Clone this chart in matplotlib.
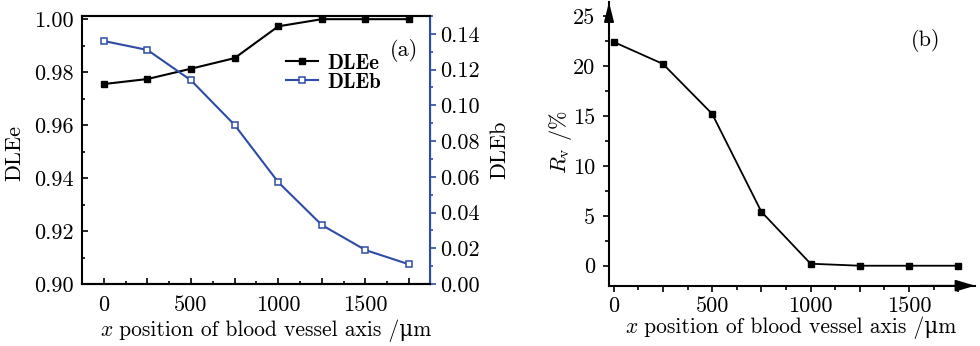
import matplotlib
matplotlib.use("Agg")
import matplotlib.pyplot as plt
from matplotlib.ticker import MultipleLocator, FuncFormatter
from matplotlib.lines import Line2D
from matplotlib.offsetbox import TextArea, HPacker, AnnotationBbox

plt.rcParams['font.family'] = ['cmr10', 'DejaVu Serif']
plt.rcParams['mathtext.fontset'] = 'cm'
plt.rcParams['axes.formatter.use_mathtext'] = True

# data
x_pos = [0, 250, 500, 750, 1000, 1250, 1500, 1750]
dle_e = [0.9755, 0.9774, 0.9813, 0.9853, 0.9973, 1.0, 1.0, 1.0]
dle_b = [0.136, 0.131, 0.114, 0.089, 0.057, 0.033, 0.019, 0.011]
rv = [22.4, 20.2, 15.2, 5.4, 0.2, 0.0, 0.0, 0.0]
xlabel_rest = ' position of blood vessel axis /μm'

blue = '#2E4CA6'
fs = 16

fig = plt.figure(figsize=(9.8, 3.46), dpi=100)


def xlabel_box(cx, cy):
    t1 = TextArea('x', textprops=dict(family='cmmi10', size=15.5))
    t2 = TextArea(xlabel_rest, textprops=dict(family=['cmr10', 'DejaVu Serif'], size=15.5))
    box = HPacker(children=[t1, t2], align='baseline', pad=0, sep=0)
    ab = AnnotationBbox(box, (cx, 346 - cy), xycoords='figure pixels', frameon=False,
                        box_alignment=(0.5, 0.5), pad=0)
    fig.add_artist(ab)


# ---------- panel (a)
ax = fig.add_axes([82/980, 1-284/346, 348/980, 268/346])
ax2 = ax.twinx()
ax.plot(x_pos, dle_e, color='black', lw=1.5, marker='s', ms=5, mfc='black', mec='black', clip_on=False, zorder=5)
ax2.plot(x_pos, dle_b, color=blue, lw=1.5, marker='s', ms=4.2, mfc='white', mec=blue, mew=1.1, clip_on=False, zorder=4)
ax.set_xlim(-125, 1870)
ax.set_ylim(0.90, 1.0012)
ax2.set_ylim(0.0, 0.15)

ax.xaxis.set_major_locator(MultipleLocator(250))
ax.xaxis.set_minor_locator(MultipleLocator(125))
ax.xaxis.set_major_formatter(FuncFormatter(lambda v, p: f"{int(round(v))}" if round(v) % 500 == 0 else ""))
ax.yaxis.set_major_locator(MultipleLocator(0.02))
ax.yaxis.set_minor_locator(MultipleLocator(0.01))
ax.yaxis.set_major_formatter(FuncFormatter(lambda v, p: f"{v:.2f}"))
ax2.yaxis.set_major_locator(MultipleLocator(0.02))
ax2.yaxis.set_minor_locator(MultipleLocator(0.01))
ax2.yaxis.set_major_formatter(FuncFormatter(lambda v, p: f"{v:.2f}"))

ax.tick_params(axis='both', which='both', direction='in', labelsize=fs, width=1.2)
ax.tick_params(axis='both', which='major', length=4)
ax.tick_params(axis='both', which='minor', length=2.5)
ax.tick_params(axis='y', right=False, pad=6)
ax.tick_params(axis='x', pad=8)
ax2.tick_params(axis='y', which='both', direction='out', color=blue, labelsize=fs, width=1.2)
ax2.tick_params(axis='y', which='major', length=4)
ax2.tick_params(axis='y', which='minor', length=2.5)
for s in ['left', 'bottom', 'top']:
    ax.spines[s].set_linewidth(1.5)
ax2.spines['right'].set_color(blue)
ax2.spines['right'].set_linewidth(1.5)
ax2.spines['left'].set_visible(False)
ax2.spines['top'].set_linewidth(1.5)
ax2.spines['bottom'].set_linewidth(1.5)

fig.text(15/980, 1-153/346, 'DLEe', fontsize=fs, rotation=90, ha='center', va='center')
fig.text(500/980, 1-150/346, 'DLEb', fontsize=fs, rotation=90, ha='center', va='center')
xlabel_box(266, 331)
ax2.text(0.965, 0.87, '(a)', transform=ax2.transAxes, ha='right', va='center', fontsize=fs)

handles = [Line2D([], [], color='black', lw=1.5, marker='s', ms=5, mfc='black', mec='black'),
           Line2D([], [], color=blue, lw=1.5, marker='s', ms=4.2, mfc='white', mec=blue, mew=1.1)]
ax2.legend(handles, ['DLEe', 'DLEb'], loc='upper left', bbox_to_anchor=(0.585, 0.86),
           frameon=False, borderpad=0, borderaxespad=0, handlelength=1.55,
           handletextpad=0.45, labelspacing=0.0, prop={'family': 'cmb10', 'size': 15})

# ---------- panel (b)
bx = fig.add_axes([609/980, 1-285.7/346, 366/980, 283.7/346])
bx.plot(x_pos, rv, color='black', lw=1.3, marker='s', ms=4.8, mfc='black', mec='black', clip_on=False, zorder=5)
bx.set_xlim(-24, 1835)
bx.set_ylim(-2.0, 26.4)
bx.xaxis.set_major_locator(MultipleLocator(250))
bx.xaxis.set_minor_locator(MultipleLocator(125))
bx.xaxis.set_major_formatter(FuncFormatter(lambda v, p: f"{int(round(v))}" if round(v) % 500 == 0 and v < 1800 else ""))
bx.yaxis.set_major_locator(MultipleLocator(5))
bx.yaxis.set_minor_locator(MultipleLocator(2.5))
bx.yaxis.set_major_formatter(FuncFormatter(lambda v, p: f"{int(round(v))}" if 0 <= v <= 25 else ""))
bx.tick_params(axis='both', which='both', direction='out', labelsize=fs, width=1.2)
bx.tick_params(axis='both', which='major', length=4)
bx.tick_params(axis='both', which='minor', length=3)
bx.tick_params(axis='y', pad=6)
bx.spines['top'].set_visible(False)
bx.spines['right'].set_visible(False)
bx.spines['left'].set_linewidth(1.5)
bx.spines['bottom'].set_linewidth(1.5)
bx.annotate('', xy=(1.0, 0), xytext=(0.85, 0), xycoords='axes fraction',
            arrowprops=dict(arrowstyle='-|>,head_length=1.0,head_width=0.3', color='black', lw=1.2,
                            mutation_scale=12, shrinkA=0, shrinkB=0))
bx.annotate('', xy=(0, 1.0), xytext=(0, 0.85), xycoords='axes fraction',
            arrowprops=dict(arrowstyle='-|>,head_length=1.0,head_width=0.25', color='black', lw=1.2,
                            mutation_scale=12, shrinkA=0, shrinkB=0))
fig.text(561/980, 1-142/346, r'$R_{\mathrm{v}}$ /%', fontsize=fs, rotation=90, ha='center', va='center')
xlabel_box(791, 328)
bx.text(0.905, 0.865, '(b)', transform=bx.transAxes, ha='right', va='center', fontsize=fs)

fig.savefig('out.png', dpi=100)
